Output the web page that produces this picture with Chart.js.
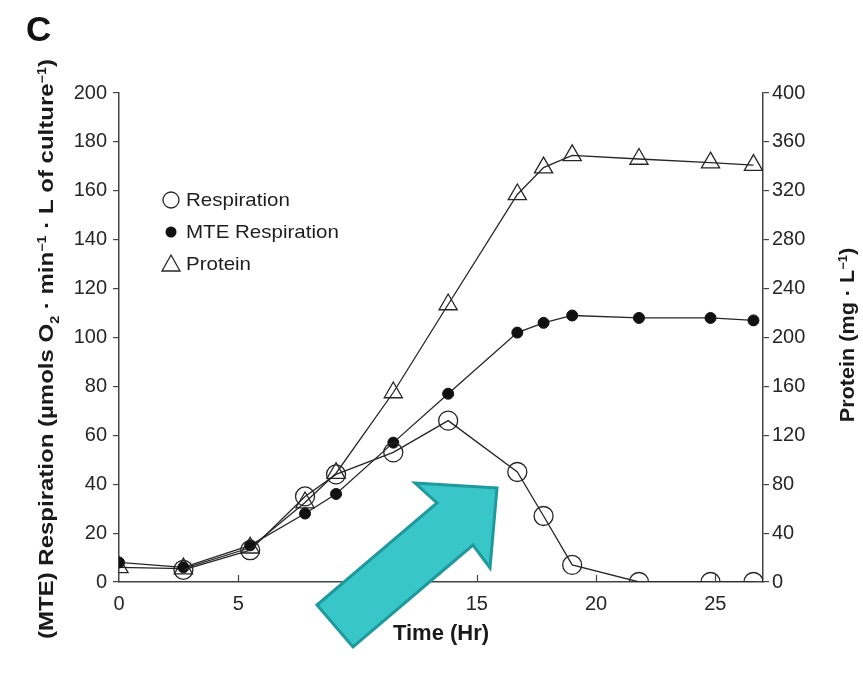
<!DOCTYPE html>
<html>
<head>
<meta charset="utf-8">
<script src="https://cdn.jsdelivr.net/npm/chart.js@4.4.1/dist/chart.umd.min.js"></script>
<style>
  html, body { margin: 0; padding: 0; background: #fff; }
  #wrap { width: 863px; height: 676px; position: relative; }
</style>
</head>
<body>
<div id="wrap"><canvas id="growthChart" width="863" height="676"></canvas></div>
<script>
// values
const timeHr = [0, 2.7, 5.5, 7.8, 9.1, 11.5, 13.8, 16.7, 17.8, 19.0, 21.8, 24.8, 26.6];
const respiration = [null, 5, 13, 35, 44, 53, 66, 45, 27, 7, 0, 0, 0];
const mteRespiration = [8, 6, 15, 28, 36, 57, 77, 102, 106, 109, 108, 108, 107];
const protein = [12, 11, 28, 65, 89, 155, 227, 317, 339, 349, 346, 343, 341];

const xTicks = [0, 5, 10, 15, 20, 25];
const yTicks = [0, 20, 40, 60, 80, 100, 120, 140, 160, 180, 200];
const y2Ticks = [0, 40, 80, 120, 160, 200, 240, 280, 320, 360, 400];

const ink = '#262626';
const tickFont = { family: '"Liberation Sans", Arial, sans-serif', size: 20 };

function toPoints(vals) {
  return timeHr.map((t, i) => ({ x: t, y: vals[i] })).filter(p => p.y !== null);
}

function fixTicks(list) {
  return scale => { scale.ticks = list.map(v => ({ value: v })); };
}

// text with sub/superscripts, centred on (0,0) of the current transform
function drawRich(ctx, parts, size) {
  const big = 'bold ' + size + 'px "Liberation Sans", Arial, sans-serif';
  const small = 'bold ' + Math.round(size * 0.62) + 'px "Liberation Sans", Arial, sans-serif';
  let total = 0;
  parts.forEach(p => {
    ctx.font = p.s ? small : big;
    total += ctx.measureText(p.t).width;
  });
  let x = -total / 2;
  ctx.textAlign = 'left';
  ctx.textBaseline = 'alphabetic';
  parts.forEach(p => {
    ctx.font = p.s ? small : big;
    let dy = 0;
    if (p.s === 'sub') dy = size * 0.28;
    if (p.s === 'sup') dy = -size * 0.38;
    ctx.fillText(p.t, x, size * 0.36 + dy);
    x += ctx.measureText(p.t).width;
  });
}

const decor = {
  id: 'decor',
  afterDraw(chart) {
    const ctx = chart.ctx;
    const xs = chart.scales.x;
    const area = chart.chartArea;
    ctx.save();

    // inward x ticks
    ctx.strokeStyle = '#444';
    ctx.lineWidth = 1.2;
    xTicks.forEach(v => {
      if (v === 0) return;
      const px = Math.round(xs.getPixelForValue(v)) + 0.5;
      ctx.beginPath();
      ctx.moveTo(px, area.bottom);
      ctx.lineTo(px, area.bottom - 7);
      ctx.stroke();
    });

    // legend
    const rows = [
      { label: 'Respiration', kind: 'open' },
      { label: 'MTE Respiration', kind: 'dot' },
      { label: 'Protein', kind: 'tri' }
    ];
    ctx.font = '19px "Liberation Sans", Arial, sans-serif';
    ctx.textBaseline = 'middle';
    ctx.textAlign = 'left';
    rows.forEach((r, i) => {
      const cx = 171, cy = 200 + i * 32;
      ctx.strokeStyle = ink;
      ctx.fillStyle = '#111';
      ctx.lineWidth = 1.3;
      ctx.beginPath();
      if (r.kind === 'open') {
        ctx.arc(cx, cy, 8, 0, Math.PI * 2);
        ctx.stroke();
      } else if (r.kind === 'dot') {
        ctx.arc(cx, cy, 5.5, 0, Math.PI * 2);
        ctx.fill();
      } else {
        ctx.moveTo(cx, cy - 9);
        ctx.lineTo(cx + 9, cy + 7);
        ctx.lineTo(cx - 9, cy + 7);
        ctx.closePath();
        ctx.stroke();
      }
      ctx.fillStyle = '#1e1e1e';
      ctx.save();
      ctx.translate(186, cy + 1);
      ctx.scale(1.08, 1);
      ctx.fillText(r.label, 0, 0);
      ctx.restore();
    });

    // axis titles
    ctx.fillStyle = '#1a1a1a';
    ctx.save();
    ctx.translate(46, 349);
    ctx.rotate(-Math.PI / 2);
    ctx.scale(1.2, 1);
    drawRich(ctx, [
      { t: '(MTE) Respiration (\u00b5mols O' }, { t: '2', s: 'sub' },
      { t: ' \u00b7 min' }, { t: '\u22121', s: 'sup' },
      { t: ' \u00b7 L of culture' }, { t: '\u22121', s: 'sup' }, { t: ')' }
    ], 20);
    ctx.restore();

    ctx.save();
    ctx.translate(847, 335);
    ctx.rotate(-Math.PI / 2);
    ctx.scale(1.08, 1);
    drawRich(ctx, [{ t: 'Protein (mg \u00b7 L' }, { t: '\u22121', s: 'sup' }, { t: ')' }], 20);
    ctx.restore();

    ctx.save();
    ctx.translate((area.left + area.right) / 2, 632);
    drawRich(ctx, [{ t: 'Time (Hr)' }], 22);
    ctx.restore();

    // panel letter
    ctx.font = 'bold 35px "Liberation Sans", Arial, sans-serif';
    ctx.textBaseline = 'alphabetic';
    ctx.fillStyle = '#111';
    ctx.fillText('C', 26, 41);

    // teal arrow annotation
    ctx.beginPath();
    ctx.moveTo(497, 488);
    ctx.lineTo(415, 483);
    ctx.lineTo(437, 503);
    ctx.lineTo(317, 605);
    ctx.lineTo(353, 647);
    ctx.lineTo(473, 545);
    ctx.lineTo(490, 568);
    ctx.closePath();
    ctx.fillStyle = '#38c6c9';
    ctx.fill();
    ctx.strokeStyle = '#1f9a9c';
    ctx.lineWidth = 3;
    ctx.lineJoin = 'miter';
    ctx.stroke();

    ctx.restore();
  }
};

new Chart(document.getElementById('growthChart'), {
  type: 'scatter',
  data: {
    datasets: [
      {
        label: 'Respiration',
        data: toPoints(respiration),
        showLine: true,
        borderColor: ink,
        borderWidth: 1.3,
        pointStyle: 'circle',
        pointRadius: 9.5,
        pointBackgroundColor: 'rgba(0,0,0,0)',
        pointBorderColor: ink,
        pointBorderWidth: 1.3,
        yAxisID: 'y'
      },
      {
        label: 'MTE Respiration',
        data: toPoints(mteRespiration),
        showLine: true,
        borderColor: ink,
        borderWidth: 1.3,
        pointStyle: 'circle',
        pointRadius: 5.5,
        pointBackgroundColor: '#111',
        pointBorderColor: '#111',
        pointBorderWidth: 1,
        yAxisID: 'y'
      },
      {
        label: 'Protein',
        data: toPoints(protein),
        showLine: true,
        borderColor: ink,
        borderWidth: 1.3,
        pointStyle: 'triangle',
        pointRadius: 10.5,
        pointBackgroundColor: 'rgba(0,0,0,0)',
        pointBorderColor: ink,
        pointBorderWidth: 1.3,
        yAxisID: 'y2'
      }
    ]
  },
  options: {
    responsive: false,
    animation: false,
    devicePixelRatio: 1,
    layout: { padding: { top: 93, left: 0, right: 0, bottom: 0 } },
    plugins: {
      legend: { display: false },
      tooltip: { enabled: false }
    },
    scales: {
      x: {
        type: 'linear',
        min: 0,
        max: 27,
        afterBuildTicks: fixTicks(xTicks),
        afterFit: s => { s.height = 94; },
        grid: { display: false, drawTicks: false },
        border: { display: true, color: '#444', width: 1.5 },
        ticks: { font: tickFont, color: '#262626', padding: 10, maxRotation: 0 }
      },
      y: {
        position: 'left',
        min: 0,
        max: 200,
        afterBuildTicks: fixTicks(yTicks),
        afterFit: s => { s.width = 119; },
        grid: { drawOnChartArea: false, drawTicks: true, tickLength: 6, color: '#444', lineWidth: 1.2 },
        border: { display: true, color: '#444', width: 1.5 },
        ticks: { font: tickFont, color: '#262626', padding: 6 }
      },
      y2: {
        position: 'right',
        min: 0,
        max: 400,
        afterBuildTicks: fixTicks(y2Ticks),
        afterFit: s => { s.width = 100; },
        grid: { drawOnChartArea: false, drawTicks: true, tickLength: 6, color: '#444', lineWidth: 1.2 },
        border: { display: true, color: '#444', width: 1.5 },
        ticks: { font: tickFont, color: '#262626', padding: 3 }
      }
    }
  },
  plugins: [decor]
});
</script>
</body>
</html>
